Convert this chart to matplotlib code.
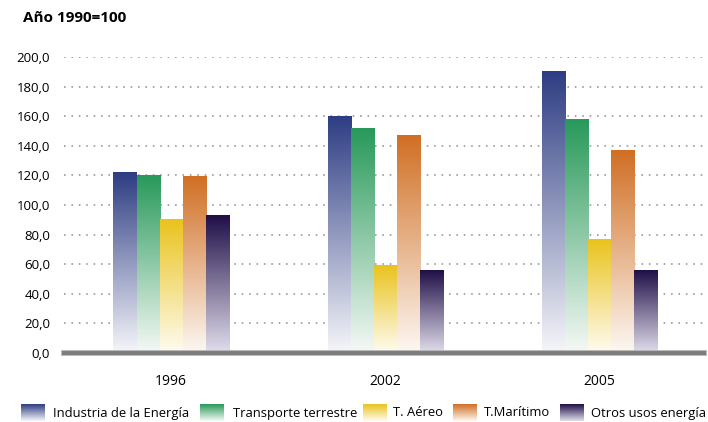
import numpy as np
import matplotlib
matplotlib.use("Agg")
import matplotlib.pyplot as plt
from matplotlib.colors import to_rgba

plt.rcParams['font.family'] = ['Open Sans', 'DejaVu Sans']

years = ["1996", "2002", "2005"]
series = ["Industria de la Energía", "Transporte terrestre", "T. Aéreo",
          "T.Marítimo", "Otros usos energía"]
industria = [122, 160, 190]
transporte = [120, 152, 157.5]
aereo = [90, 59, 77]
maritimo = [119, 147, 136.5]
otros = [93, 56, 56]
values = [industria, transporte, aereo, maritimo, otros]

top_colors = ["#2e3d83", "#28995a", "#e9c31c", "#d06f24", "#1f0f47"]
bottom_colors = ["#f6f6fa", "#f6f9f6", "#fffcf2", "#fdf8f3", "#e2deec"]

yticks = np.arange(0, 201, 20)


def gradient(c_top, c_bot, n=256):
    t = np.linspace(0, 1, n)[:, None]
    a = np.array(to_rgba(c_top))
    b = np.array(to_rgba(c_bot))
    g = a * (1 - t) + b * t
    return g[:, None, :]


fig = plt.figure(figsize=(7.08, 4.22), dpi=100)
W, H = 708, 422
ax = fig.add_axes([64 / W, 69 / H, 640 / W, 296 / H])
ax.set_xlim(-0.5, 2.49)
ax.set_ylim(0, 200)

for y in yticks[1:]:
    ax.axhline(y, color="#a0a0a0", lw=1.3, linestyle=(0, (0.9, 3.2)), zorder=1)

width = 0.1075
for i, (vals, ct, cb) in enumerate(zip(values, top_colors, bottom_colors)):
    img = gradient(ct, cb)
    for j, v in enumerate(vals):
        x0 = j + (i - 2.5) * width
        ax.imshow(img, extent=[x0, x0 + width, 0, v], aspect="auto",
                  interpolation="bilinear", zorder=2)

ax.set_xlim(-0.5, 2.49)
ax.set_ylim(0, 200)
ax.axhline(0, color="#b4b4b4", lw=4.2, zorder=3, clip_on=False)
ax.axhline(0, color="#7c7c7c", lw=2.8, zorder=4, clip_on=False)

ax.set_yticks(yticks)
ax.set_yticklabels([f"{v:.1f}".replace(".", ",") for v in yticks], fontsize=9.5)
ax.tick_params(axis="y", length=0, pad=10)
ax.set_xticks(range(len(years)))
ax.set_xticklabels(years, fontsize=10)
ax.tick_params(axis="x", length=0, pad=15)
for s in ax.spines.values():
    s.set_visible(False)

# title and legend in pixel space
lax = fig.add_axes([0, 0, 1, 1], facecolor="none")
lax.set_xlim(0, W)
lax.set_ylim(H, 0)
lax.axis("off")
lax.text(23, 18, "Año 1990=100", fontsize=11, fontweight="bold", va="center")

patch_x = [21, 200, 363, 453, 560]
text_x = [53, 233, 393, 484, 591]
for name, px, tx, ct, cb in zip(series, patch_x, text_x, top_colors, bottom_colors):
    lax.imshow(gradient(ct, cb), extent=[px, px + 24, 421, 404], aspect="auto",
               interpolation="bilinear")
    lax.text(tx, 413, name, fontsize=9.4, va="center")
lax.set_xlim(0, W)
lax.set_ylim(H, 0)

fig.savefig("out.png", dpi=100)
